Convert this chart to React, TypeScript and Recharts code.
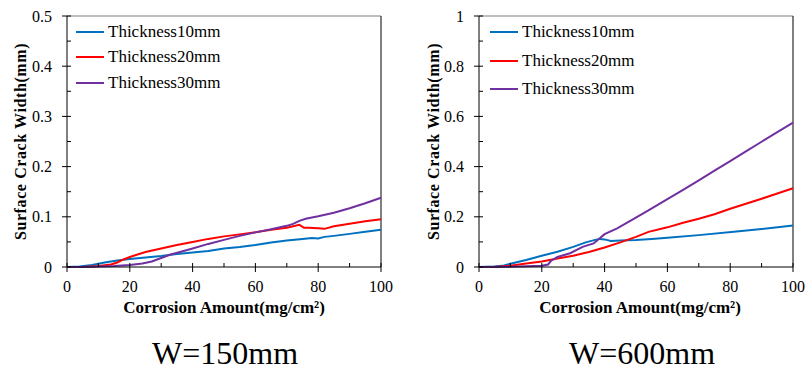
import React from 'react';
import { LineChart, Line, XAxis, YAxis, ReferenceLine, Legend } from 'recharts';

const FONT = '"Liberation Serif", "Times New Roman", serif';

const seriesNames = ['Thickness10mm', 'Thickness20mm', 'Thickness30mm'];
const seriesColors = ['#0070C0', '#FF0000', '#7030A0'];

// W=150mm
const l10X = [0, 4, 8, 12, 16, 20, 25, 30, 35, 40, 45, 50, 55, 60, 65, 70, 75, 78, 80, 82, 85, 90, 95, 100];
const l10Y = [0, 0.001, 0.004, 0.009, 0.013, 0.016, 0.019, 0.022, 0.026, 0.029, 0.032, 0.037, 0.040, 0.044, 0.049, 0.053, 0.056, 0.058, 0.057, 0.060, 0.062, 0.066, 0.070, 0.074];
const l20X = [0, 5, 10, 14, 16, 18, 20, 25, 30, 35, 40, 45, 50, 55, 60, 65, 70, 74, 75.5, 77, 80, 82, 85, 90, 95, 100];
const l20Y = [0, 0, 0.002, 0.005, 0.009, 0.015, 0.020, 0.030, 0.037, 0.044, 0.050, 0.056, 0.061, 0.065, 0.069, 0.074, 0.078, 0.084, 0.078, 0.078, 0.077, 0.076, 0.081, 0.086, 0.091, 0.095];
const l30X = [0, 5, 10, 15, 20, 24, 27, 30, 33, 36, 40, 45, 50, 55, 60, 65, 70, 72, 74, 76, 80, 85, 90, 95, 100];
const l30Y = [0, 0, 0.001, 0.002, 0.004, 0.007, 0.011, 0.018, 0.025, 0.030, 0.037, 0.046, 0.054, 0.062, 0.069, 0.075, 0.082, 0.086, 0.092, 0.096, 0.101, 0.108, 0.117, 0.127, 0.138];

// W=600mm
const r10X = [0, 5, 8, 10, 15, 20, 25, 30, 34, 37, 38.5, 40, 42, 45, 50, 55, 60, 70, 82, 90, 100];
const r10Y = [0, 0.002, 0.006, 0.013, 0.028, 0.045, 0.061, 0.080, 0.098, 0.108, 0.112, 0.110, 0.104, 0.106, 0.108, 0.112, 0.117, 0.127, 0.141, 0.151, 0.165];
const r20X = [0, 5, 10, 15, 20, 25, 30, 35, 40, 45, 50, 54, 60, 65, 70, 75, 80, 85, 90, 95, 100];
const r20Y = [0, 0, 0.005, 0.014, 0.022, 0.034, 0.045, 0.060, 0.078, 0.098, 0.120, 0.140, 0.158, 0.176, 0.192, 0.210, 0.232, 0.252, 0.272, 0.293, 0.314];
const r30X = [0, 10, 20, 22, 23, 25, 29, 33, 36.5, 38, 40, 44, 49, 54.5, 60, 65, 70, 75, 80, 85, 90, 95, 100];
const r30Y = [0, 0.001, 0.005, 0.010, 0.025, 0.040, 0.055, 0.080, 0.094, 0.110, 0.131, 0.154, 0.190, 0.230, 0.270, 0.307, 0.345, 0.384, 0.422, 0.461, 0.499, 0.537, 0.575];

const xTicks = [0, 10, 20, 30, 40, 50, 60, 70, 80, 90, 100];
const leftYTicks = [0, 0.05, 0.1, 0.15, 0.2, 0.25, 0.3, 0.35, 0.4, 0.45, 0.5];
const rightYTicks = [0, 0.1, 0.2, 0.3, 0.4, 0.5, 0.6, 0.7, 0.8, 0.9, 1];

const xTitle = 'Corrosion Amount(mg/cm²)';
const yTitle = 'Surface Crack Width(mm)';
const panelTitles = ['W=150mm', 'W=600mm'];

const zip = (xs: number[], ys: number[]) => xs.map((x, i) => ({ x, y: ys[i] }));

const isMajor = (v: number, step: number) => Math.abs(v / step - Math.round(v / step)) < 1e-6;

const YTick = (props: any) => {
  const { x, y, payload, majorStep } = props;
  const v = payload.value;
  const major = isMajor(v, majorStep);
  return (
    <g>
      <line x1={major ? x - 5 : x} x2={x + 4} y1={y} y2={y} stroke="#000" strokeWidth={1} />
      {major && (
        <text x={x - 15} y={y} dy="0.35em" textAnchor="end" style={{ fontFamily: FONT }} fontSize={16} fill="#000">
          {String(Math.round(v * 10) / 10)}
        </text>
      )}
    </g>
  );
};

const XTick = (props: any) => {
  const { x, y, payload } = props;
  const v = payload.value;
  const major = isMajor(v, 20);
  return (
    <g>
      <line x1={x} x2={x} y1={y - 4} y2={major ? y + 5 : y} stroke="#000" strokeWidth={1} />
      {major && (
        <text x={x} y={y + 19} dy="0.35em" textAnchor="middle" style={{ fontFamily: FONT }} fontSize={16} fill="#000">
          {String(v)}
        </text>
      )}
    </g>
  );
};

const LegendBox = ({ rowH }: { rowH: number }) => (
  <div style={{ fontFamily: FONT, fontSize: 17, color: '#000' }}>
    {seriesNames.map((n, i) => (
      <div key={n} style={{ height: rowH, display: 'flex', alignItems: 'center' }}>
        <svg width={28} height={4} style={{ display: 'block' }}>
          <line x1={0} x2={28} y1={2} y2={2} stroke={seriesColors[i]} strokeWidth={2} />
        </svg>
        <span style={{ marginLeft: 4, whiteSpace: 'nowrap' }}>{n}</span>
      </div>
    ))}
  </div>
);

type PanelProps = {
  left: number;
  width: number;
  marginRight: number;
  yMax: number;
  yTicks: number[];
  yMajor: number;
  series: { x: number[]; y: number[] }[];
  legendLeft: number;
  legendTop: number;
  rowH: number;
};

const Panel = (p: PanelProps) => (
  <div style={{ position: 'absolute', left: p.left, top: 0, width: p.width, height: 300 }}>
    <LineChart width={p.width} height={300} margin={{ top: 16, right: p.marginRight, bottom: 32, left: 66 }}>
      <XAxis
        type="number"
        dataKey="x"
        domain={[0, 100]}
        ticks={xTicks}
        interval={0}
        height={1}
        tickSize={0}
        tickMargin={0}
        axisLine={{ stroke: '#000', strokeWidth: 1 }}
        tickLine={false}
        tick={(props: any) => <XTick {...props} />}
      />
      <YAxis
        type="number"
        domain={[0, p.yMax]}
        ticks={p.yTicks}
        interval={0}
        width={1}
        tickSize={0}
        tickMargin={0}
        axisLine={{ stroke: '#000', strokeWidth: 1 }}
        tickLine={false}
        tick={(props: any) => <YTick {...props} majorStep={p.yMajor} />}
      />
      <ReferenceLine y={p.yMax} stroke="#7f7f7f" strokeWidth={1} />
      <ReferenceLine x={100} stroke="#000" strokeWidth={1} />
      {p.series.map((s, i) => (
        <Line
          key={seriesNames[i]}
          data={zip(s.x, s.y)}
          dataKey="y"
          name={seriesNames[i]}
          type="linear"
          stroke={seriesColors[i]}
          strokeWidth={2}
          dot={false}
          isAnimationActive={false}
        />
      ))}
      <Legend
        layout="vertical"
        align="center"
        verticalAlign="middle"
        wrapperStyle={{ left: p.legendLeft, top: p.legendTop, width: 200, height: 'auto' }}
        content={() => <LegendBox rowH={p.rowH} />}
      />
    </LineChart>
  </div>
);

export default function App() {
  return (
    <div style={{ position: 'absolute', left: 0, top: 0, width: 807, height: 388, background: '#fff' }}>
      <Panel
        left={0}
        width={400}
        marginRight={19}
        yMax={0.5}
        yTicks={leftYTicks}
        yMajor={0.1}
        series={[{ x: l10X, y: l10Y }, { x: l20X, y: l20Y }, { x: l30X, y: l30Y }]}
        legendLeft={76}
        legendTop={19}
        rowH={25.5}
      />
      <Panel
        left={412}
        width={395}
        marginRight={14}
        yMax={1}
        yTicks={rightYTicks}
        yMajor={0.2}
        series={[{ x: r10X, y: r10Y }, { x: r20X, y: r20Y }, { x: r30X, y: r30Y }]}
        legendLeft={78}
        legendTop={18}
        rowH={28.5}
      />
      <svg width={807} height={388} style={{ position: 'absolute', left: 0, top: 0, pointerEvents: 'none', fontFamily: FONT }}>
        <text x={20} y={141.5} dy="0.35em" textAnchor="middle" transform="rotate(-90 20 141.5)" fontWeight="bold" fontSize={16} letterSpacing={0.6}>{yTitle}</text>
        <text x={433} y={141.5} dy="0.35em" textAnchor="middle" transform="rotate(-90 433 141.5)" fontWeight="bold" fontSize={16} letterSpacing={0.6}>{yTitle}</text>
        <text x={224} y={307} dy="0.35em" textAnchor="middle" fontWeight="bold" fontSize={17}>{xTitle}</text>
        <text x={640} y={307} dy="0.35em" textAnchor="middle" fontWeight="bold" fontSize={17}>{xTitle}</text>
        <text x={225} y={353} dy="0.35em" textAnchor="middle" fontSize={32}>{panelTitles[0]}</text>
        <text x={642} y={353} dy="0.35em" textAnchor="middle" fontSize={32}>{panelTitles[1]}</text>
      </svg>
    </div>
  );
}
